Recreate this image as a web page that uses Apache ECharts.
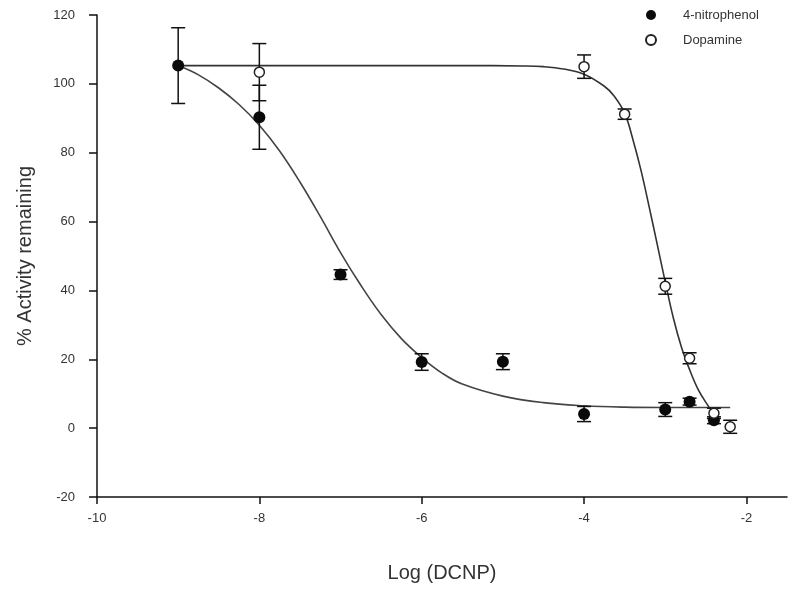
<!DOCTYPE html>
<html>
<head>
<meta charset="utf-8">
<script src="https://cdn.jsdelivr.net/npm/echarts@6/dist/echarts.min.js"></script>
<style>
  html, body { margin: 0; padding: 0; background: #fff; }
  #chart { width: 800px; height: 589px; }
</style>
</head>
<body>
<div id="chart"></div>
<script>
// measured points (mean, SEM)
const nitroX = [-9, -8, -7, -6, -5, -4, -3, -2.7, -2.4]
const nitroY = [105.3, 90.3, 44.6, 19.2, 19.3, 4.1, 5.4, 7.7, 2.3]
const nitroErr = [11, 9.3, 1.4, 2.4, 2.3, 2.2, 2, 1, 1]

const dopaX = [-8, -4, -3.5, -3, -2.7, -2.4, -2.2]
const dopaY = [103.4, 105, 91.2, 41.2, 20.3, 4.3, 0.4]
const dopaErr = [8.3, 3.4, 1.5, 2.3, 1.6, 1.5, 1.9]

// fitted curves
const nitroFitX = [-9, -8.75, -8.5, -8.25, -8, -7.75, -7.5, -7.25, -7, -6.75, -6.5, -6.25, -6, -5.75, -5.5, -5, -4.5, -4, -3.5, -3, -2.2]
const nitroFitY = [105.3, 102.6, 98.8, 94, 88, 80.5, 71.5, 61.5, 51, 41.5, 33, 26, 20.5, 16, 12.8, 9.3, 7.4, 6.5, 6.1, 6, 6]

const dopaFitX = [-9, -7, -5.5, -4.75, -4.5, -4.25, -4, -3.75, -3.63, -3.5, -3.4, -3.3, -3.2, -3.1, -3, -2.9, -2.8, -2.7, -2.6, -2.5, -2.38]
const dopaFitY = [105.3, 105.3, 105.3, 105.2, 105, 104.3, 102.8, 99.3, 96.5, 91.5, 84, 75, 64.5, 53.5, 42.5, 32, 23.5, 17, 11.5, 7.5, 3.5]

const xTicks = [-10, -8, -6, -4, -2]

const FONT = 'Liberation Sans, Arial, sans-serif'

function pairs(xs, ys) {
  return xs.map((x, i) => [x, ys[i]])
}
function errRows(xs, ys, es) {
  return xs.map((x, i) => [x, ys[i] - es[i], ys[i] + es[i]])
}

function renderErr(params, api) {
  const x = api.value(0)
  const lo = api.coord([x, api.value(1)])
  const hi = api.coord([x, api.value(2)])
  const w = 7
  const st = { stroke: '#111', lineWidth: 1.5 }
  return {
    type: 'group',
    children: [
      { type: 'line', shape: { x1: hi[0], y1: hi[1], x2: lo[0], y2: lo[1] }, style: st },
      { type: 'line', shape: { x1: hi[0] - w, y1: hi[1], x2: hi[0] + w, y2: hi[1] }, style: st },
      { type: 'line', shape: { x1: lo[0] - w, y1: lo[1], x2: lo[0] + w, y2: lo[1] }, style: st }
    ]
  }
}

const myChart = echarts.init(document.getElementById('chart'))
const option = {
  backgroundColor: '#fff',
  animation: false,
  textStyle: { fontFamily: FONT },
  grid: { left: 97, right: 13, top: 15, bottom: 92 },
  legend: {
    data: ['4-nitrophenol', 'Dopamine'],
    orient: 'vertical',
    left: 645,
    top: 8,
    padding: 0,
    itemWidth: 10,
    itemHeight: 10,
    itemGap: 11,
    textStyle: { fontSize: 13, color: '#333', fontFamily: FONT, lineHeight: 14, padding: [0, 0, 0, 22] }
  },
  xAxis: {
    type: 'value',
    min: -10,
    max: -1.5,
    interval: 2,
    name: 'Log (DCNP)',
    nameLocation: 'middle',
    nameGap: 66,
    nameTextStyle: { fontSize: 20, color: '#333', fontFamily: FONT },
    axisLine: { onZero: false, lineStyle: { color: '#111', width: 1.5 } },
    axisTick: { length: 7, lineStyle: { color: '#111', width: 1.5 }, customValues: xTicks },
    axisLabel: { fontSize: 13, color: '#333', margin: 15, customValues: xTicks },
    splitLine: { show: false }
  },
  yAxis: {
    type: 'value',
    min: -20,
    max: 120,
    interval: 20,
    name: '% Activity remaining',
    nameLocation: 'middle',
    nameGap: 62,
    nameTextStyle: { fontSize: 20, color: '#333', fontFamily: FONT },
    axisLine: { onZero: false, lineStyle: { color: '#111', width: 1.5 } },
    axisTick: { length: 8, lineStyle: { color: '#111', width: 1.5 } },
    axisLabel: { fontSize: 13, color: '#333', margin: 22 },
    splitLine: { show: false }
  },
  series: [
    {
      name: 'fit-nitro',
      type: 'line',
      data: pairs(nitroFitX, nitroFitY),
      smooth: 0.4,
      showSymbol: false,
      silent: true,
      lineStyle: { color: '#444', width: 1.6 },
      z: 1
    },
    {
      name: 'fit-dopa',
      type: 'line',
      data: pairs(dopaFitX, dopaFitY),
      smooth: 0.4,
      showSymbol: false,
      silent: true,
      lineStyle: { color: '#333', width: 1.6 },
      z: 1
    },
    {
      name: 'err-nitro',
      type: 'custom',
      renderItem: renderErr,
      data: errRows(nitroX, nitroY, nitroErr),
      encode: { x: 0, y: [1, 2] },
      silent: true,
      z: 2
    },
    {
      name: 'err-dopa',
      type: 'custom',
      renderItem: renderErr,
      data: errRows(dopaX, dopaY, dopaErr),
      encode: { x: 0, y: [1, 2] },
      silent: true,
      z: 2
    },
    {
      name: '4-nitrophenol',
      type: 'scatter',
      data: pairs(nitroX, nitroY),
      symbol: 'circle',
      symbolSize: 12,
      itemStyle: { color: '#0a0a0a', opacity: 1 },
      z: 3
    },
    {
      name: 'Dopamine',
      type: 'scatter',
      data: pairs(dopaX, dopaY),
      symbol: 'circle',
      symbolSize: 10,
      itemStyle: { color: '#fff', borderColor: '#222', borderWidth: 1.5, opacity: 1 },
      z: 4
    }
  ]
}
option && myChart.setOption(option)
</script>
</body>
</html>
